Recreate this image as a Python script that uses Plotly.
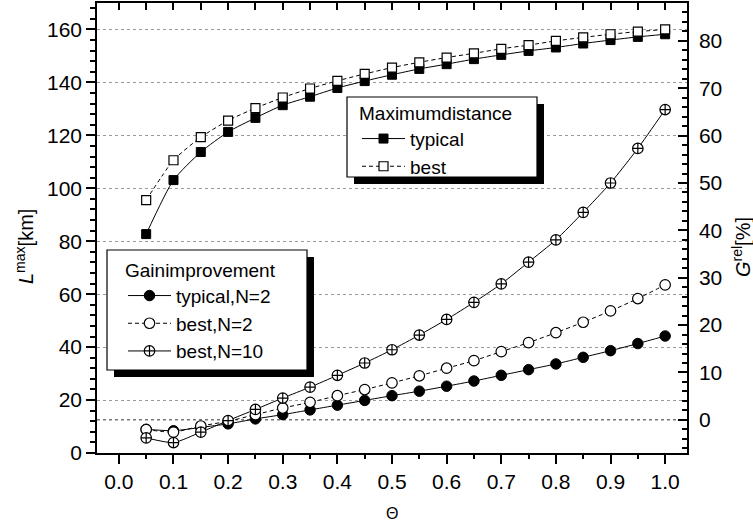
import plotly.graph_objects as go

theta = [0.05, 0.10, 0.15, 0.20, 0.25, 0.30, 0.35, 0.40, 0.45, 0.50,
         0.55, 0.60, 0.65, 0.70, 0.75, 0.80, 0.85, 0.90, 0.95, 1.00]

# Maximum distance L^max [km] (left axis)
lmax_typical = [82.7, 103.1, 113.7, 121.3, 126.6, 131.4, 134.6, 137.9, 140.5, 142.9,
                145.1, 146.9, 148.8, 150.4, 151.9, 153.2, 154.7, 156.0, 157.2, 158.2]
lmax_best = [95.5, 110.6, 119.3, 125.6, 130.3, 134.3, 137.7, 140.6, 143.2, 145.6,
             147.6, 149.4, 151.0, 152.7, 154.1, 155.7, 157.0, 158.2, 159.2, 160.0]

# Gain improvement G^rel [%] (right axis)
g_typical_n2 = [-2.0, -2.3, -1.6, -0.85, 0.2, 1.1, 2.1, 3.1, 4.1, 5.1,
                6.05, 7.1, 8.2, 9.4, 10.6, 11.8, 13.2, 14.6, 16.1, 17.7]
g_best_n2 = [-2.05, -2.6, -1.3, -0.3, 1.1, 2.5, 3.7, 5.1, 6.4, 7.8,
             9.3, 10.9, 12.5, 14.4, 16.3, 18.4, 20.6, 23.0, 25.6, 28.5]
g_best_n10 = [-3.8, -4.8, -2.6, -0.15, 2.2, 4.6, 6.9, 9.4, 12.0, 14.8,
              17.9, 21.2, 24.8, 28.7, 33.3, 38.0, 43.8, 50.0, 57.3, 65.5]

xticks = [0.0, 0.1, 0.2, 0.3, 0.4, 0.5, 0.6, 0.7, 0.8, 0.9, 1.0]

FONT = "Arial, Liberation Sans, sans-serif"
DASH = "4px,3px"

fig = go.Figure()

fig.add_trace(go.Scatter(
    x=theta, y=lmax_typical, name="typical", legend="legend",
    mode="lines+markers", line=dict(color="black", width=1, shape="spline", smoothing=0.6),
    marker=dict(symbol="square", size=9, color="black", line=dict(color="black", width=1)),
    yaxis="y", xaxis="x"))
fig.add_trace(go.Scatter(
    x=theta, y=lmax_best, name="best", legend="legend",
    mode="lines+markers", line=dict(color="black", width=1, dash=DASH, shape="spline", smoothing=0.6),
    marker=dict(symbol="square", size=9, color="white", line=dict(color="black", width=1.2)),
    yaxis="y", xaxis="x"))

fig.add_trace(go.Scatter(
    x=theta, y=g_typical_n2, name="typical,N=2", legend="legend2",
    mode="lines+markers", line=dict(color="black", width=1, shape="spline", smoothing=0.6),
    marker=dict(symbol="circle", size=10.5, color="black", line=dict(color="black", width=1)),
    yaxis="y2", xaxis="x"))
fig.add_trace(go.Scatter(
    x=theta, y=g_best_n2, name="best,N=2", legend="legend2",
    mode="lines+markers", line=dict(color="black", width=1, dash=DASH, shape="spline", smoothing=0.6),
    marker=dict(symbol="circle", size=10.5, color="white", line=dict(color="black", width=1.2)),
    yaxis="y2", xaxis="x"))
fig.add_trace(go.Scatter(
    x=theta, y=g_best_n10, name="best,N=10", legend="legend2",
    mode="lines+markers", line=dict(color="black", width=1, shape="spline", smoothing=0.6),
    marker=dict(symbol="circle-cross", size=10.5, color="white", line=dict(color="black", width=1.2)),
    yaxis="y2", xaxis="x"))

# plot area in pixels: x 97..687, y 3..453
L, R, T, B = 97, 687, 3, 453
W, H = R - L, B - T
def px(xp):
    return (xp - L) / W
def py(yp):
    return (B - yp) / H

def legend_box(x0, y0, x1, y1, off=7):
    return [
        dict(type="rect", xref="paper", yref="paper",
             x0=px(x0 + off), x1=px(x1 + off), y0=py(y0 + off), y1=py(y1 + off),
             fillcolor="black", line=dict(width=0), layer="above"),
        dict(type="rect", xref="paper", yref="paper",
             x0=px(x0), x1=px(x1), y0=py(y0), y1=py(y1),
             fillcolor="white", line=dict(color="black", width=1.2), layer="above"),
    ]

shapes = [
    dict(type="line", xref="paper", yref="y2", x0=0, x1=1, y0=0, y1=0,
         line=dict(color="#333", width=1, dash="dot"), layer="below"),
] + legend_box(347, 97, 537, 177) + legend_box(107, 250, 307, 370)

axis_common = dict(showline=True, linecolor="black", linewidth=1.5, zeroline=False,
                   tickcolor="black", tickwidth=1.5,
                   tickfont=dict(family=FONT, size=21, color="black"))

LEGFONT = dict(family=FONT, size=19, color="black")

fig.update_layout(
    width=753, height=529,
    margin=dict(l=L, r=753 - R, t=T, b=529 - B, autoexpand=False),
    plot_bgcolor="white", paper_bgcolor="white",
    font=dict(family=FONT, color="black"),
    xaxis=dict(range=[-0.04, 1.04], tickvals=xticks, ticktext=[f"{v:.1f}" for v in xticks],
               ticks="outside", ticklen=9, showgrid=False,
               minor=dict(dtick=0.05, tick0=0, ticks="outside", ticklen=4, tickcolor="black", tickwidth=1.5),
               **axis_common),
    xaxis2=dict(range=[-0.04, 1.04], overlaying="x", side="top", dtick=0.05, tick0=0,
                ticks="inside", ticklen=7, showticklabels=False, showgrid=False,
                **axis_common),
    yaxis=dict(range=[0, 170], dtick=20, ticks="outside", ticklen=9,
               showgrid=True, gridcolor="#9a9a9a", griddash="dot", gridwidth=1,
               minor=dict(dtick=4, ticks="outside", ticklen=5, tickcolor="black", tickwidth=1.5),
               **axis_common),
    yaxis2=dict(range=[-7, 88], dtick=10, overlaying="y", side="right",
                ticks="inside", ticklen=9, showgrid=False, ticklabelstandoff=6,
                minor=dict(dtick=2, ticks="inside", ticklen=5, tickcolor="black", tickwidth=1.5),
                **axis_common),
    legend=dict(x=px(357), y=py(95), xanchor="left", yanchor="top",
                bgcolor="rgba(0,0,0,0)", borderwidth=0,
                font=LEGFONT, title=dict(text="Maximumdistance", font=LEGFONT),
                itemwidth=43, tracegroupgap=0),
    legend2=dict(x=px(123), y=py(252), xanchor="left", yanchor="top",
                 bgcolor="rgba(0,0,0,0)", borderwidth=0,
                 font=LEGFONT, title=dict(text="Gainimprovement", font=LEGFONT),
                 itemwidth=43, tracegroupgap=0),
    shapes=shapes,
    annotations=[
        dict(text="<i>L</i><sup>max</sup>[km]", xref="paper", yref="paper",
             x=px(25), y=py(247), xanchor="center", yanchor="middle",
             showarrow=False, textangle=-90,
             font=dict(family=FONT, size=20, color="black")),
        dict(text="<i>G</i><sup>rel</sup>[%]", xref="paper", yref="paper",
             x=px(742), y=py(247), xanchor="center", yanchor="middle",
             showarrow=False, textangle=-90,
             font=dict(family=FONT, size=20, color="black")),
        dict(text="Θ", xref="paper", yref="paper",
             x=px(392), y=py(513), xanchor="center", yanchor="middle", showarrow=False,
             font=dict(family=FONT, size=16, color="black")),
    ],
)
# activate the top axis
fig.add_trace(go.Scatter(x=[None], y=[None], xaxis="x2", yaxis="y", showlegend=False, hoverinfo="skip"))

fig.write_html("out.html", config={"displayModeBar": False},
               post_script="document.body.style.margin='0';document.body.style.padding='0';")
